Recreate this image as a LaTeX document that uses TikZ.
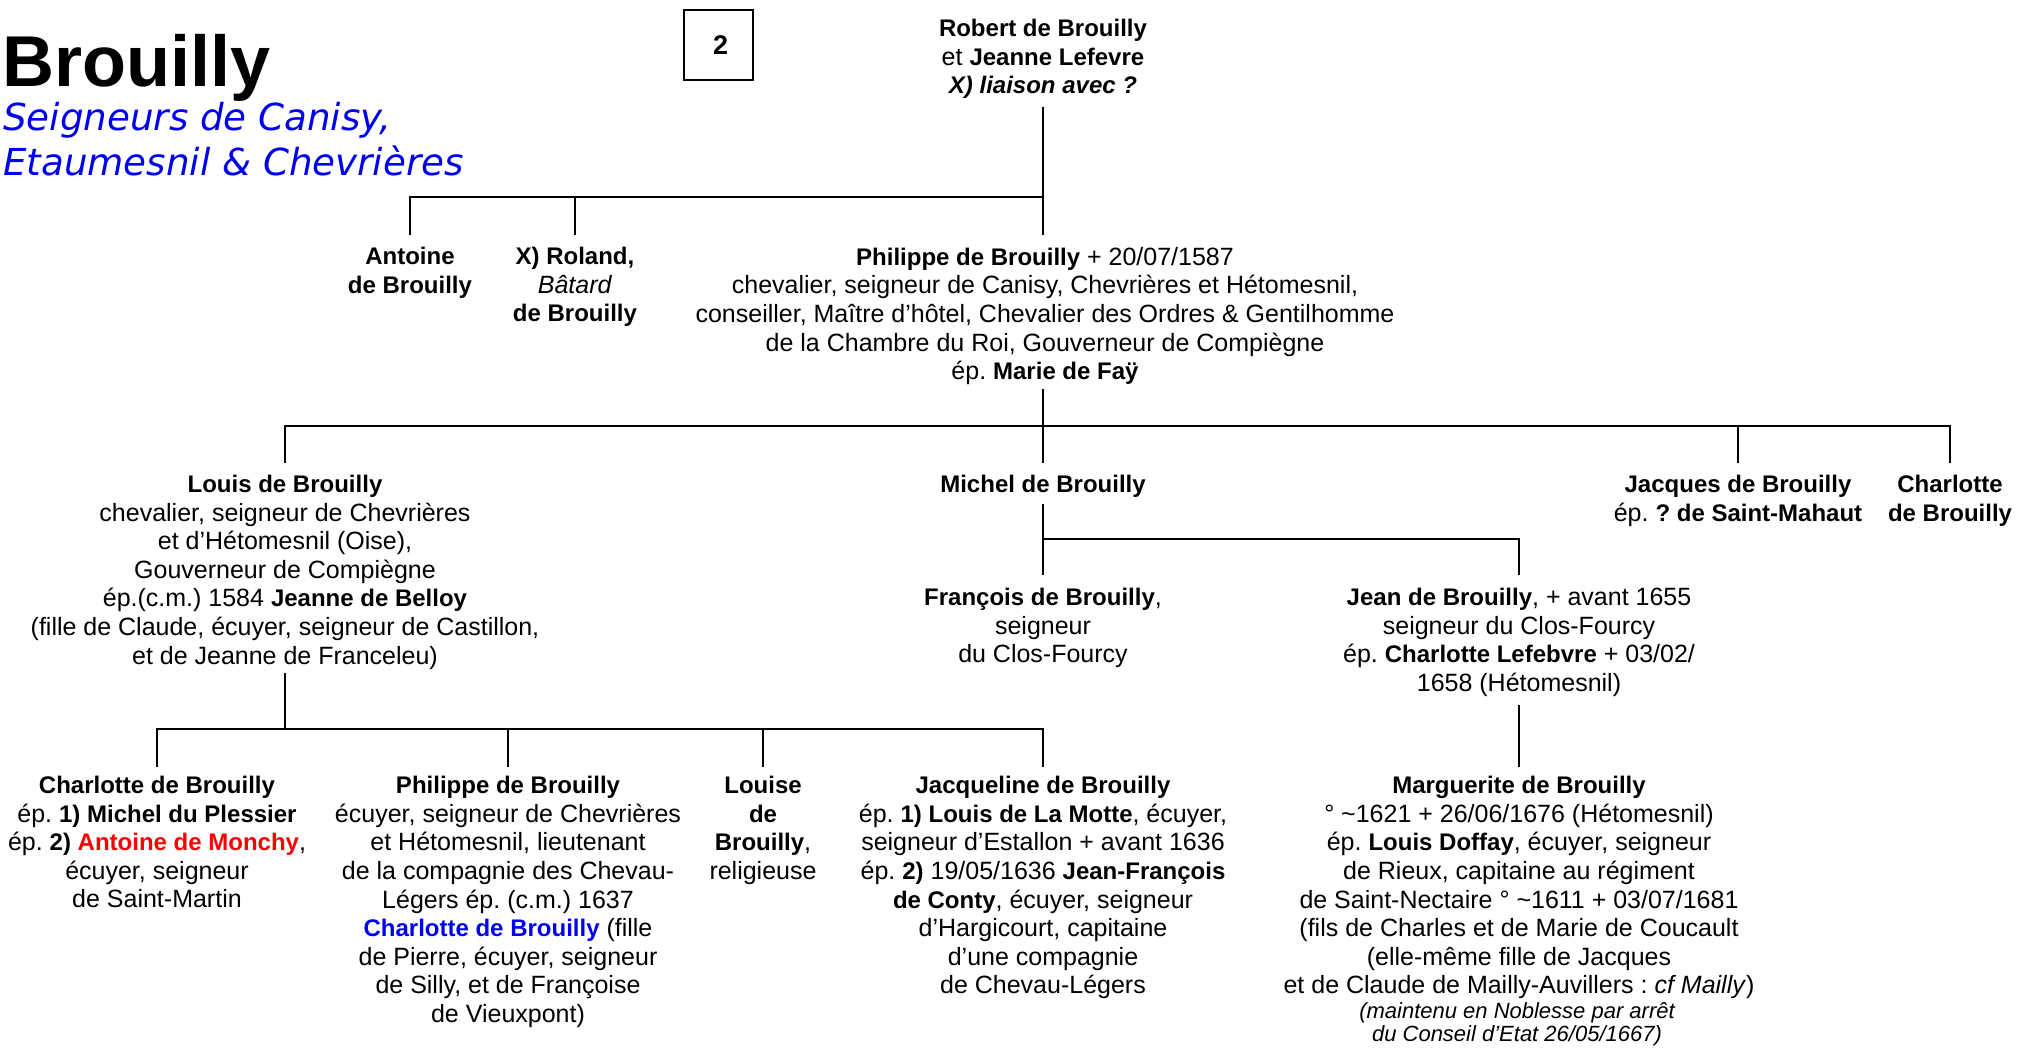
\documentclass[tikz,border=0pt]{standalone}
\usepackage{fontspec}
\setmainfont{Liberation Sans}
\newfontfamily\subfont{DejaVu Sans}
\definecolor{mred}{RGB}{255,0,0}
\definecolor{mblue}{RGB}{0,0,240}
\newcommand{\bnm}[1]{{\fontsize{24}{28.6}\selectfont\bfseries #1}}
\frenchspacing
\begin{document}
\begin{tikzpicture}[x=1pt,y=-1pt,
  person/.style={align=center, anchor=north, inner sep=0pt, font=\fontsize{25}{28.6}\selectfont},
  link/.style={line width=2.8pt},
]
\useasboundingbox (0,0) rectangle (2017,1048);

% title block
\node[anchor=base west, inner sep=0pt, font=\fontsize{72}{80}\selectfont\bfseries] (title) at (2,87) {Brouilly};
\node[anchor=north west, inner sep=0pt, align=left, text=mblue, font=\subfont\itshape\fontsize{37.2}{45}\selectfont] (subtitle) at (3,102) {Seigneurs de Canisy,\\Etaumesnil \& Chevrières};
\node[draw, line width=1.4pt, minimum width=69pt, minimum height=70pt, inner sep=0pt, font=\fontsize{27}{30}\selectfont\bfseries] (num) at (718.5,45) {\hspace*{4pt}2};

% generation 1
\node[person] (robert) at (1043,19) {\bnm{Robert de Brouilly}\\et \bnm{Jeanne Lefevre}\\\bnm{\itshape X) liaison avec ?}};

% generation 2
\node[person] (antoine) at (410,247) {\bnm{Antoine}\\\bnm{de Brouilly}};
\node[person] (roland) at (575,247) {\bnm{X) Roland,}\\\textit{Bâtard}\\\bnm{de Brouilly}};
\node[person] (philippe) at (1045,247) {\bnm{Philippe de Brouilly} + 20/07/1587\\chevalier, seigneur de Canisy, Chevrières et Hétomesnil,\\conseiller, Maître d’hôtel, Chevalier des Ordres \& Gentilhomme\\de la Chambre du Roi, Gouverneur de Compiègne\\ép. \bnm{Marie de Faÿ}};

% generation 3
\node[person] (louis) at (285,475) {\bnm{Louis de Brouilly}\\chevalier, seigneur de Chevrières\\et d’Hétomesnil (Oise),\\Gouverneur de Compiègne\\ép.(c.m.) 1584 \bnm{Jeanne de Belloy}\\(fille de Claude, écuyer, seigneur de Castillon,\\et de Jeanne de Franceleu)};
\node[person] (michel) at (1043,475) {\bnm{Michel de Brouilly}};
\node[person] (jacques) at (1738,475) {\bnm{Jacques de Brouilly}\\ép. \bnm{? de Saint-Mahaut}};
\node[person] (charlotteA) at (1950,475) {\bnm{Charlotte}\\\bnm{de Brouilly}};

% generation 4 (Michel)
\node[person] (francois) at (1043,588) {\bnm{François de Brouilly},\\seigneur\\du Clos-Fourcy};
\node[person] (jean) at (1519,588) {\bnm{Jean de Brouilly}, + avant 1655\\seigneur du Clos-Fourcy\\ép. \bnm{Charlotte Lefebvre} + 03/02/\\1658 (Hétomesnil)};

% generation 4 (Louis) and 5
\node[person] (charlotteB) at (157,776) {\bnm{Charlotte de Brouilly}\\ép. \bnm{1) Michel du Plessier}\\ép. \bnm{2) \textcolor{mred}{Antoine de Monchy}},\\écuyer, seigneur\\de Saint-Martin};
\node[person] (philippeB) at (508,776) {\bnm{Philippe de Brouilly}\\écuyer, seigneur de Chevrières\\et Hétomesnil, lieutenant\\de la compagnie des Chevau-\\Légers ép. (c.m.) 1637\\\bnm{\color{mblue}Charlotte de Brouilly} (fille\\de Pierre, écuyer, seigneur\\de Silly, et de Françoise\\de Vieuxpont)};
\node[person] (louise) at (763,776) {\bnm{Louise}\\\bnm{de}\\\bnm{Brouilly},\\religieuse};
\node[person] (jacqueline) at (1043,776) {\bnm{Jacqueline de Brouilly}\\ép. \bnm{1) Louis de La Motte}, écuyer,\\seigneur d’Estallon + avant 1636\\ép. \bnm{2)} 19/05/1636 \bnm{Jean-François}\\\bnm{de Conty}, écuyer, seigneur\\d’Hargicourt, capitaine\\d’une compagnie\\de Chevau-Légers};
\node[person] (marguerite) at (1519,776) {\bnm{Marguerite de Brouilly}\\° \textasciitilde1621 + 26/06/1676 (Hétomesnil)\\ép. \bnm{Louis Doffay}, écuyer, seigneur\\de Rieux, capitaine au régiment\\de Saint-Nectaire ° \textasciitilde1611 + 03/07/1681\\(fils de Charles et de Marie de Coucault\\(elle-même fille de Jacques\\et de Claude de Mailly-Auvillers : \textit{cf Mailly})};
\node[person, font=\fontsize{22}{23.5}\selectfont\itshape] (note) at (1517,1002) {(maintenu en Noblesse par arrêt\\du Conseil d’Etat 26/05/1667)};

% connectors
\coordinate (bus1) at (1043,197);
\coordinate (bus2) at (0,426);
\coordinate (bus3) at (0,539);
\coordinate (bus4) at (0,729);

\draw[link] ([yshift=-8pt]robert.south) -- ([yshift=12pt]robert.south |- philippe.north);
\draw[link] ([yshift=12pt]antoine.north) |- (bus1);
\draw[link] ([yshift=12pt]roland.north) -- (roland.north |- bus1);

\draw[link] ([yshift=-4pt]michel.north |- philippe.south) -- ([yshift=12pt]michel.north);
\draw[link] ([yshift=12pt]louis.north) |- (charlotteA.north |- bus2) -- ([yshift=12pt]charlotteA.north);
\draw[link] ([yshift=12pt]jacques.north) -- (jacques.north |- bus2);

\draw[link] ([yshift=-6pt]michel.south) -- ([yshift=13pt]francois.north);
\draw[link] (michel.south |- bus3) -| ([yshift=13pt]jean.north);

\draw[link] ([yshift=-3pt]louis.south) -- (louis.south |- bus4);
\draw[link] ([yshift=9pt]charlotteB.north) |- (jacqueline.north |- bus4) -- ([yshift=9pt]jacqueline.north);
\draw[link] ([yshift=9pt]philippeB.north) -- (philippeB.north |- bus4);
\draw[link] ([yshift=9pt]louise.north) -- (louise.north |- bus4);

\draw[link] ([yshift=-8pt]jean.south) -- ([yshift=9pt]marguerite.north);
\end{tikzpicture}
\end{document}
